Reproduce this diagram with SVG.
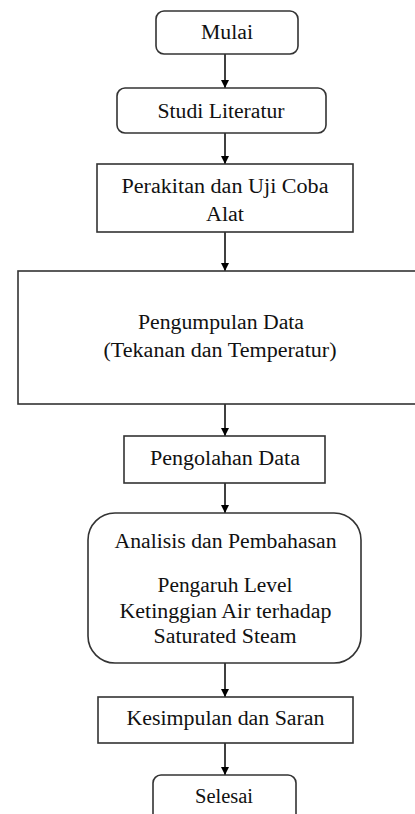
<svg xmlns="http://www.w3.org/2000/svg" width="415" height="814" viewBox="0 0 415 814">
<style>
.box{fill:#fff;stroke:#333;stroke-width:1.6}
.t{font-family:"Liberation Serif","Times New Roman",serif;font-size:20px;fill:#111;text-anchor:middle}
.c{stroke:#000;stroke-width:1.5;fill:none}
</style>
<defs>
<marker id="ah" markerWidth="8" markerHeight="8" refX="8" refY="4" orient="auto" markerUnits="userSpaceOnUse">
<path d="M0,0 L8,4 L0,8 Z" fill="#000"/>
</marker>
</defs>
<rect width="415" height="814" fill="#fff"/>
<g id="connectors">
<line class="c" x1="225" y1="54" x2="225" y2="88" marker-end="url(#ah)"/>
<line class="c" x1="225" y1="133" x2="225" y2="164" marker-end="url(#ah)"/>
<line class="c" x1="225" y1="232" x2="225" y2="271" marker-end="url(#ah)"/>
<line class="c" x1="225" y1="404" x2="225" y2="436" marker-end="url(#ah)"/>
<line class="c" x1="225" y1="483" x2="225" y2="513" marker-end="url(#ah)"/>
<line class="c" x1="225" y1="663" x2="225" y2="697" marker-end="url(#ah)"/>
<line class="c" x1="225" y1="743" x2="225" y2="775" marker-end="url(#ah)"/>
</g>
<g id="mulai">
<rect class="box" x="156" y="11" width="142" height="43" rx="8"/>
<text class="t" x="227" y="39" textLength="52" lengthAdjust="spacingAndGlyphs">Mulai</text>
</g>
<g id="studi">
<rect class="box" x="117" y="88" width="209" height="45" rx="8"/>
<text class="t" x="221" y="118" textLength="127" lengthAdjust="spacingAndGlyphs">Studi Literatur</text>
</g>
<g id="perakitan">
<rect class="box" x="97" y="164" width="256" height="68"/>
<text class="t" x="225" y="193" textLength="207" lengthAdjust="spacingAndGlyphs">Perakitan dan Uji Coba</text>
<text class="t" x="225" y="221" textLength="38" lengthAdjust="spacingAndGlyphs">Alat</text>
</g>
<g id="pengumpulan">
<rect class="box" x="18" y="271" width="420" height="133"/>
<text class="t" x="221" y="329" textLength="166" lengthAdjust="spacingAndGlyphs">Pengumpulan Data</text>
<text class="t" x="220" y="357" textLength="233" lengthAdjust="spacingAndGlyphs">(Tekanan dan Temperatur)</text>
</g>
<g id="pengolahan">
<rect class="box" x="124" y="436" width="201" height="47"/>
<text class="t" x="225" y="465" textLength="150" lengthAdjust="spacingAndGlyphs">Pengolahan Data</text>
</g>
<g id="analisis">
<rect class="box" x="88" y="513" width="273" height="150" rx="27"/>
<text class="t" x="225.5" y="548" textLength="222" lengthAdjust="spacingAndGlyphs">Analisis dan Pembahasan</text>
<text class="t" x="225" y="592" textLength="135" lengthAdjust="spacingAndGlyphs">Pengaruh Level</text>
<text class="t" x="225.5" y="618" textLength="212" lengthAdjust="spacingAndGlyphs">Ketinggian Air terhadap</text>
<text class="t" x="225" y="643" textLength="143" lengthAdjust="spacingAndGlyphs">Saturated Steam</text>
</g>
<g id="kesimpulan">
<rect class="box" x="98" y="697" width="255" height="46"/>
<text class="t" x="225.5" y="725" textLength="198" lengthAdjust="spacingAndGlyphs">Kesimpulan dan Saran</text>
</g>
<g id="selesai">
<rect class="box" x="153" y="775" width="143" height="50" rx="8"/>
<text class="t" x="224" y="803" textLength="58" lengthAdjust="spacingAndGlyphs">Selesai</text>
</g>
</svg>
